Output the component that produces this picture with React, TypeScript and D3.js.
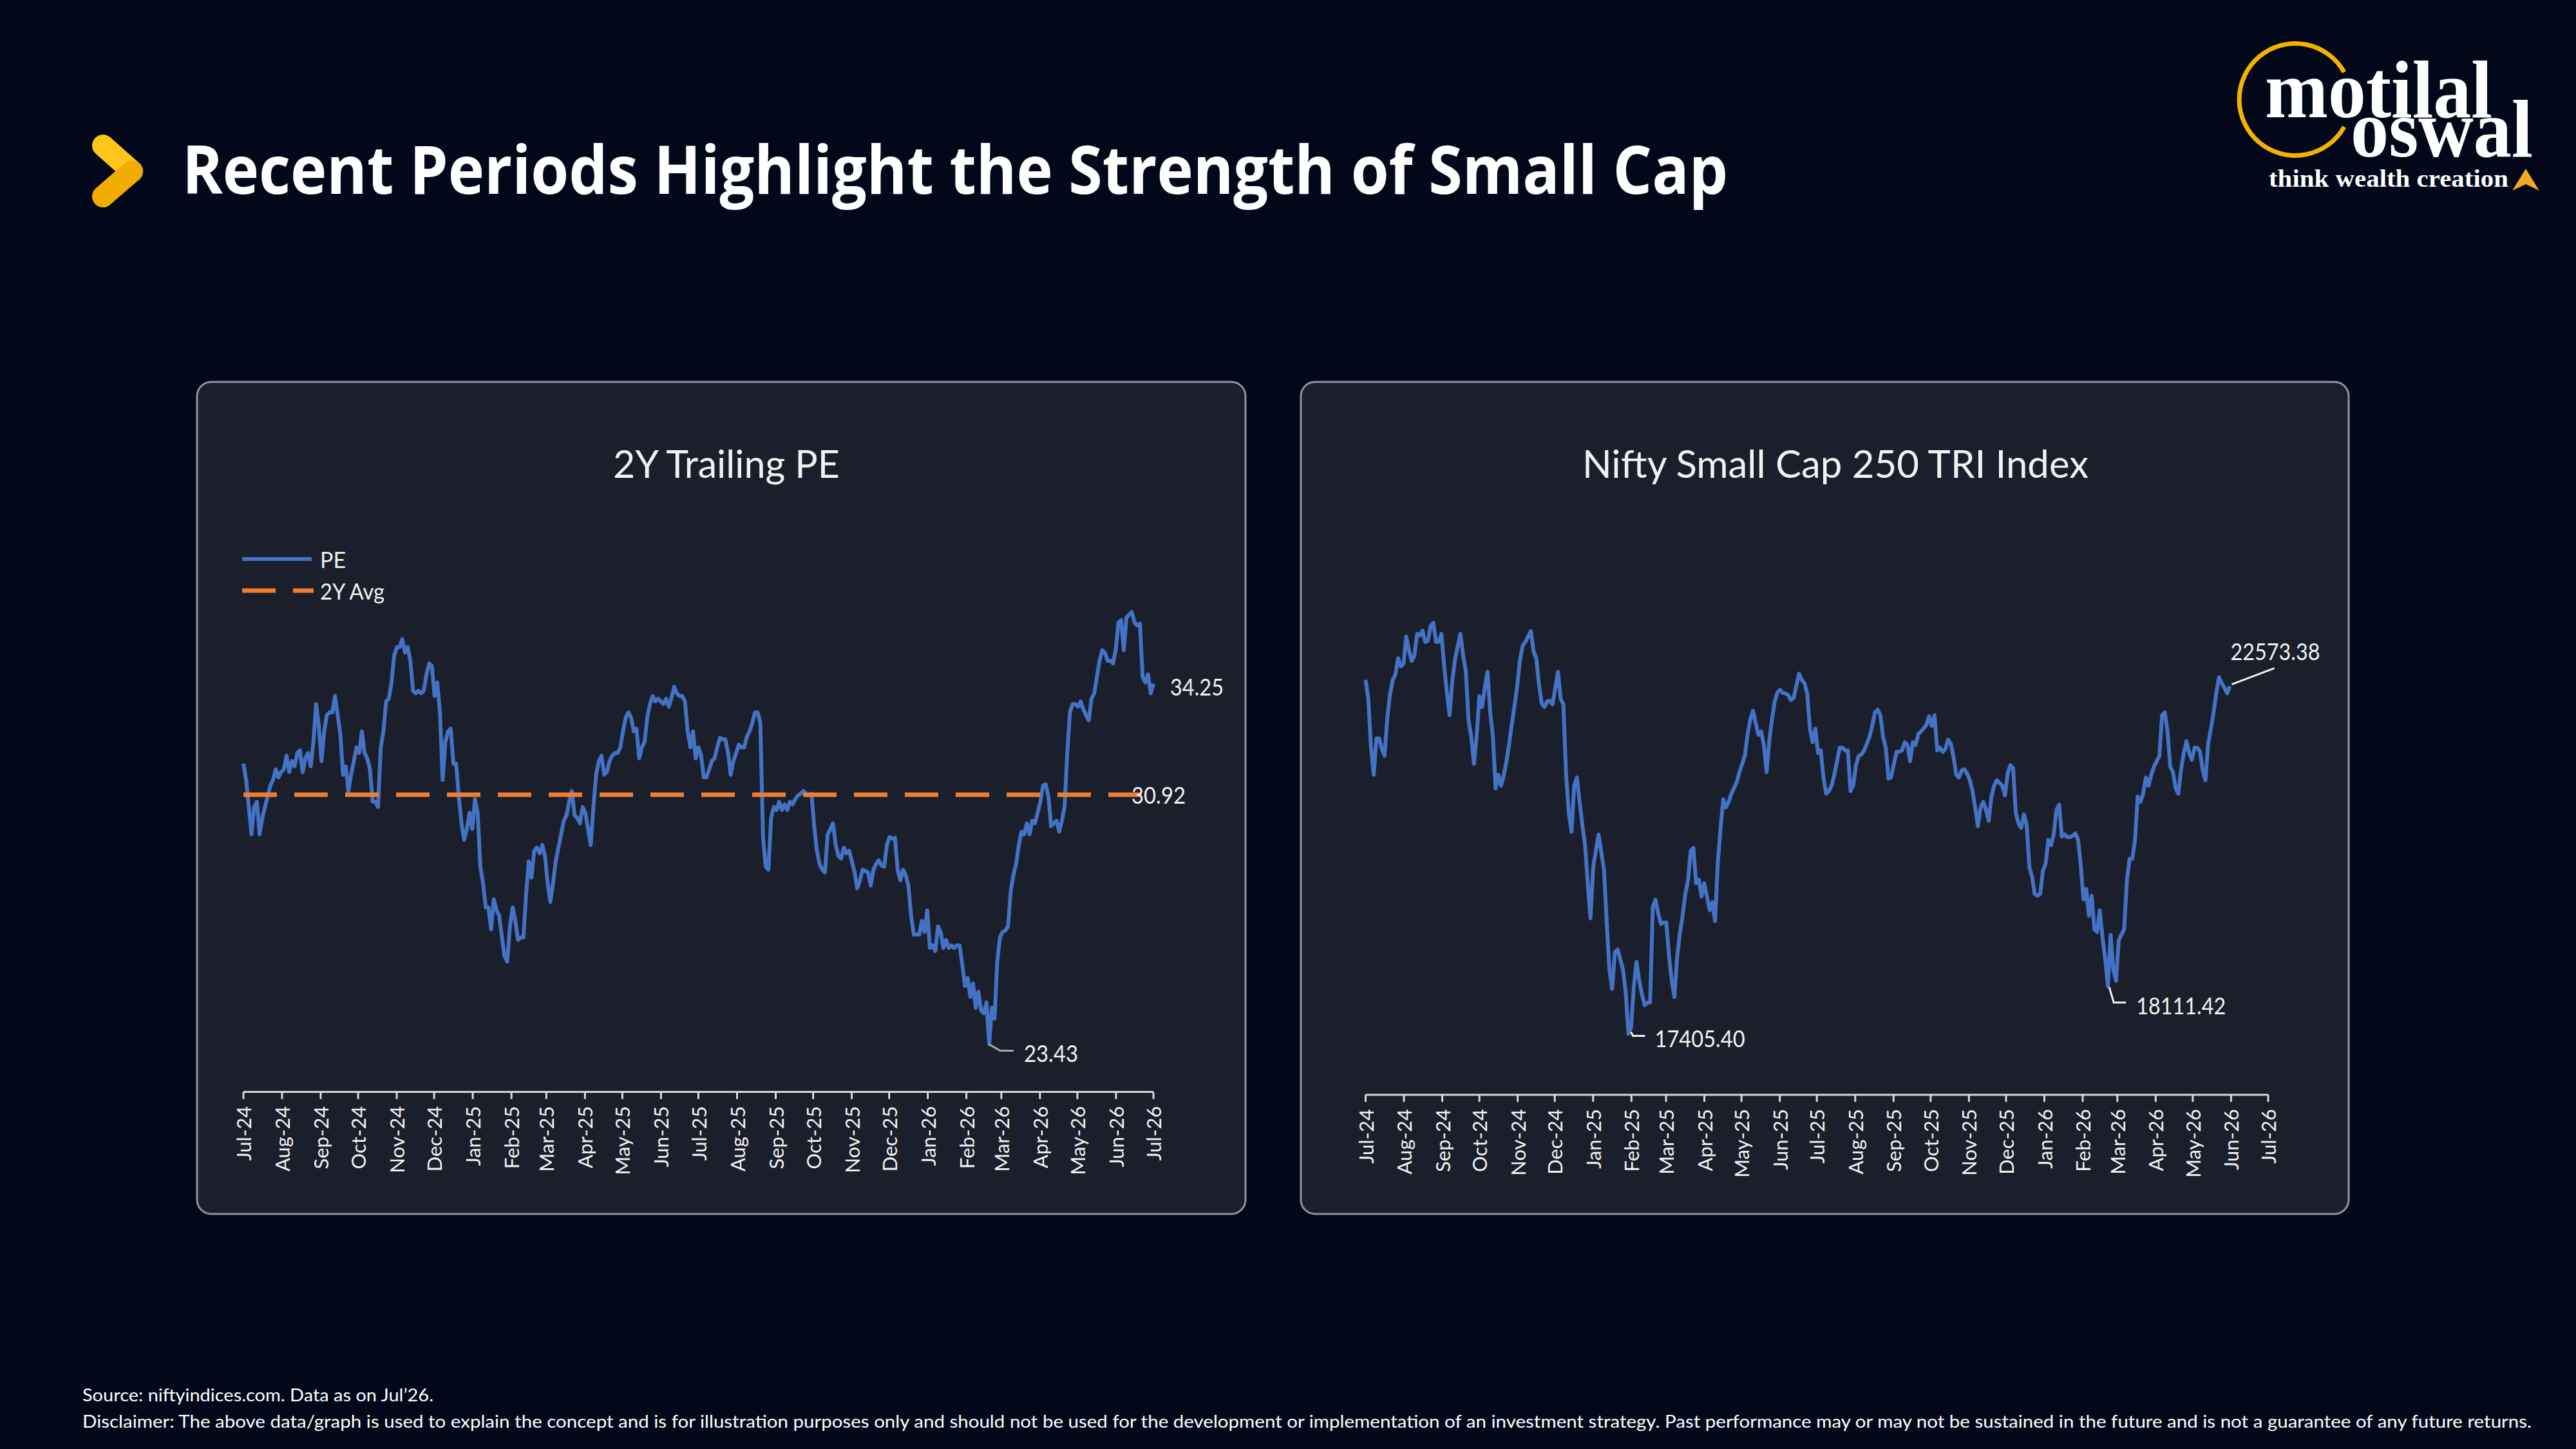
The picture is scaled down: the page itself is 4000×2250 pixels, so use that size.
import React from "react";
import * as d3 from "d3";

const W = 4000;
const H = 2250;

const pageTitle = "Recent Periods Highlight the Strength of Small Cap";
const peTitle = "2Y Trailing PE";
const indexTitle = "Nifty Small Cap 250 TRI Index";
const legendLabels = ["PE", "2Y Avg"];
const logoWords = ["motilal", "oswal", "think wealth creation"];
const sourceNote = "Source: niftyindices.com. Data as on Jul\u201926.";
const disclaimer =
  "Disclaimer: The above data/graph is used to explain the concept and is for illustration purposes only and should not be used for the development or implementation of an investment strategy. Past performance may or may not be sustained in the future and is not a guarantee of any future returns.";

const periodStart = new Date(2024, 6, 1);
const periodEnd = new Date(2026, 6, 1);
const peLastDate = new Date(2026, 6, 1);
const indexLastDate = new Date(2026, 4, 31);
const secondLowFrom = new Date(2025, 11, 1);

const peAverage = 30.92;
const peDomain = [22, 38];
const indexDomain = [16500, 24500];

const peValues = [
  31.85, 31.36, 30.55, 29.73, 30.55, 30.71, 29.73, 30.22, 30.55, 30.87,
  31.2, 31.36, 31.68, 31.44, 31.6, 31.68, 32.09, 31.6, 31.93, 31.77,
  32.17, 32.25, 31.6, 32.01, 32.17, 31.77, 32.5, 33.64, 32.99, 31.93,
  32.82, 33.31, 33.39, 33.39, 33.88, 33.31, 32.74, 31.52, 31.77, 31.03,
  31.52, 31.93, 32.34, 32.17, 32.82, 32.17, 32.01, 31.68, 30.71, 30.71,
  30.55, 32.34, 32.82, 33.72, 33.8, 34.29, 35.1, 35.35, 35.35, 35.59,
  35.18, 35.35, 34.94, 34.04, 33.96, 34.04, 33.96, 34.04, 34.53, 34.86,
  34.78, 33.88, 34.29, 33.39, 31.36, 32.5, 32.82, 32.9, 31.85, 31.85,
  30.87, 30.06, 29.57, 29.89, 30.38, 29.89, 30.79, 30.38, 28.76, 28.27,
  27.54, 27.54, 26.88, 27.78, 27.45, 27.29, 26.64, 26.07, 25.91, 26.97,
  27.54, 27.13, 26.56, 26.64, 26.64, 27.94, 28.92, 28.43, 29.24, 29.33,
  29.16, 29.41, 29.08, 28.27, 27.7, 28.27, 28.92, 29.33, 29.73, 30.14,
  30.3, 30.71, 31.03, 30.3, 30.22, 30.06, 30.55, 30.38, 29.89, 29.41,
  30.55, 31.52, 31.93, 32.09, 31.52, 31.6, 31.93, 32.09, 32.17, 32.17,
  32.34, 32.82, 33.23, 33.39, 33.23, 32.82, 32.9, 32.01, 32.34, 32.5,
  33.23, 33.64, 33.88, 33.72, 33.8, 33.72, 33.64, 33.8, 33.56, 33.83,
  34.16, 33.96, 33.88, 33.88, 33.72, 32.82, 32.34, 32.82, 32.01, 32.34,
  32.09, 31.44, 31.44, 31.68, 31.93, 32.01, 32.34, 32.63, 32.58, 32.58,
  32.17, 31.52, 31.93, 32.17, 32.42, 32.34, 32.34, 32.66, 32.82, 33.07,
  33.39, 33.39, 33.07, 29.65, 28.76, 28.67, 30.22, 30.55, 30.46, 30.71,
  30.46, 30.63, 30.46, 30.71, 30.63, 30.79, 30.9, 30.95, 31.03, 30.95,
  30.9, 30.95, 29.98, 29.24, 28.84, 28.67, 28.59, 29.73, 29.89, 30.06,
  29.41, 29.08, 29.0, 29.33, 29.16, 29.24, 28.92, 28.59, 28.11, 28.35,
  28.67, 28.63, 28.59, 28.19, 28.67, 28.84, 28.95, 28.79, 28.76, 29.41,
  29.65, 29.6, 29.63, 28.67, 28.35, 28.67, 28.51, 28.19, 27.29, 26.72,
  26.72, 26.72, 27.13, 26.8, 27.45, 26.32, 26.4, 26.23, 26.97, 26.8,
  26.32, 26.56, 26.32, 26.4, 26.32, 26.4, 26.4, 25.83, 25.18, 25.42,
  24.85, 25.26, 24.53, 25.01, 24.44, 24.36, 24.69, 23.43, 24.53, 24.2,
  25.91, 26.64, 26.8, 26.84, 26.97, 28.02, 28.51, 28.84, 29.41, 29.81,
  29.73, 30.06, 29.73, 30.14, 30.06, 30.38, 30.71, 31.2, 31.23, 30.87,
  29.98, 30.06, 30.14, 29.81, 30.14, 30.55, 32.17, 33.39, 33.64, 33.64,
  33.56, 33.72, 33.47, 33.31, 33.15, 33.8, 33.96, 34.45, 34.94, 35.26,
  35.18, 34.94, 34.94, 34.86, 35.26, 36.08, 36.16, 35.26, 36.24, 36.32,
  36.4, 36.08, 36.0, 36.05, 34.45, 34.29, 34.53, 33.96, 34.25,
];

const indexValues = [
  22668, 22386, 21661, 21258, 21800, 21800, 21640, 21540, 22100, 22450,
  22660, 22750, 22991, 22870, 22910, 23313, 23111, 22950, 23031, 23353,
  23330, 23400, 23230, 23250, 23470, 23515, 23232, 23232, 23353, 22870,
  22480, 22144, 22650, 22970, 23170, 23353, 23031, 22789, 22064, 21822,
  21419, 21840, 22426, 22265, 22547, 22789, 22180, 21820, 21056, 21258,
  21096, 21250, 21460, 21720, 22020, 22290, 22590, 22970, 23180, 23232,
  23313, 23394, 23090, 22990, 22600, 22320, 22265, 22350, 22360, 22305,
  22547, 22789, 22386, 22305, 21258, 20693, 20411, 21096, 21217, 20855,
  20510, 20210, 19646, 19122, 19887, 20129, 20371, 20100, 19847, 19060,
  18356, 18074, 18620, 18660, 18520, 18360, 18034, 17405.4, 17500, 18114,
  18477, 18195, 17993, 17832, 17872, 17872, 19283, 19400, 19200, 19040,
  19060, 19060, 18558, 18195, 17953, 18560, 18900, 19162, 19484, 19686,
  20129, 20170, 19646, 19700, 19444, 19646, 19444, 19243, 19364, 19081,
  19950, 20450, 20895, 20774, 20855, 20976, 21060, 21150, 21298, 21419,
  21540, 21862, 22080, 22209, 22023, 21850, 21902, 21701, 21298, 21760,
  22080, 22346, 22480, 22520, 22475, 22467, 22440, 22370, 22400, 22580,
  22760, 22668, 22620, 22467, 21943, 21741, 21943, 21580, 21620, 21220,
  20976, 21016, 21096, 21258, 21459, 21661, 21661, 21620, 21620, 21016,
  21100, 21400, 21540, 21560, 21620, 21717, 21822, 21983, 22185, 22225,
  22144, 21822, 21661, 21200, 21220, 21420, 21600, 21600, 21620, 21741,
  21701, 21459, 21741, 21701, 21862, 21900, 21950, 22000, 22128, 21983,
  22144, 21620, 21661, 21600, 21640, 21780, 21720, 21520, 21258, 21217,
  21320, 21340, 21280, 21180, 21016, 20774, 20492, 20774, 20855, 20734,
  20573, 20935, 21096, 21177, 21137, 21096, 20951, 21280, 21400, 21354,
  20693, 20532, 20468, 20670, 20510, 19887, 19740, 19484, 19460, 19484,
  19830, 19930, 20290, 20210, 20371, 20734, 20814, 20340, 20371, 20331,
  20331, 20350, 20387, 20290, 19900, 19404, 19560, 19162, 19460, 18961,
  18920, 19243, 18840, 18517, 18111.42, 18880, 18356, 18195, 18799, 18880,
  18961, 19686, 20008, 20008, 20290, 20935, 20855, 20976, 21217, 21096,
  21258, 21379, 21459, 21540, 22144, 22185, 21902, 21379, 21298, 21056,
  20976, 21338, 21580, 21757, 21580, 21483, 21661, 21661, 21600, 21320,
  21177, 21720, 21940, 22180, 22470, 22708, 22620, 22550, 22467, 22573.38,
];

const BLUE = "#4472C4";
const ORANGE = "#ED7D31";
const TXT = "#F2F2F2";
const FONT = "Lato, 'Open Sans', sans-serif";

function spreadDates(n: number, start: Date, end: Date): Date[] {
  const t0 = start.getTime();
  const t1 = end.getTime();
  return d3.range(n).map((i) => new Date(t0 + ((t1 - t0) * i) / (n - 1)));
}

const peDates = spreadDates(peValues.length, periodStart, peLastDate);
const indexDates = spreadDates(indexValues.length, periodStart, indexLastDate);
const monthTicks = d3.timeMonth.range(periodStart, d3.timeDay.offset(periodEnd, 1));
const fmtMonth = d3.timeFormat("%b-%y");

function Axis({ x, axisY }: { x: d3.ScaleTime<number, number>; axisY: number }) {
  return (
    <g>
      <line x1={x(periodStart)} x2={x(periodEnd)} y1={axisY} y2={axisY} stroke="#D9D9D9" strokeWidth={3} />
      {monthTicks.map((m, i) => (
        <g key={i}>
          <line x1={x(m)} x2={x(m)} y1={axisY} y2={axisY + 11} stroke="#D9D9D9" strokeWidth={3} />
          <text
            transform={`translate(${x(m)},${axisY + 22}) rotate(-90)`}
            textAnchor="end"
            dominantBaseline="central"
            fontFamily={FONT}
            fontSize={31}
            fill={TXT}
          >
            {fmtMonth(m)}
          </text>
        </g>
      ))}
    </g>
  );
}

export default function App() {
  const xL = d3.scaleTime().domain([periodStart, periodEnd]).range([378, 1791]);
  const yL = d3.scaleLinear().domain(peDomain).range([1695.6, 867.6]);
  const xR = d3.scaleTime().domain([periodStart, periodEnd]).range([2120.5, 3522]);
  const yR = d3.scaleLinear().domain(indexDomain).range([1700, 864.4]);

  const peLine = d3
    .line<number>()
    .x((_, i) => xL(peDates[i]))
    .y((d) => yL(d));
  const idxLine = d3
    .line<number>()
    .x((_, i) => xR(indexDates[i]))
    .y((d) => yR(d));

  const peMinI = d3.minIndex(peValues);
  const peLastI = peValues.length - 1;
  const peMin = { x: xL(peDates[peMinI]), y: yL(peValues[peMinI]), v: peValues[peMinI] };
  const peLast = { x: xL(peDates[peLastI]), y: yL(peValues[peLastI]), v: peValues[peLastI] };

  const idxMinI = d3.minIndex(indexValues);
  const laterIdx = d3.range(indexValues.length).filter((i) => indexDates[i] >= secondLowFrom);
  const idxLow2I = laterIdx[d3.minIndex(laterIdx.map((i) => indexValues[i]))];
  const idxLastI = indexValues.length - 1;
  const im = { x: xR(indexDates[idxMinI]), y: yR(indexValues[idxMinI]), v: indexValues[idxMinI] };
  const i2 = { x: xR(indexDates[idxLow2I]), y: yR(indexValues[idxLow2I]), v: indexValues[idxLow2I] };
  const il = { x: xR(indexDates[idxLastI]), y: yR(indexValues[idxLastI]), v: indexValues[idxLastI] };

  const avgY = yL(peAverage);

  return (
    <svg
      width={W}
      height={H}
      viewBox={`0 0 ${W} ${H}`}
      style={{ position: "absolute", left: 0, top: 0, display: "block" }}
    >
      <rect x={0} y={0} width={W} height={H} fill="#02081A" />

      {/* Header chevron */}
      <line x1={160} y1={226} x2={205} y2={266} stroke="#FFC61A" strokeWidth={34} strokeLinecap="round" />
      <line x1={205} y1={266} x2={160} y2={305} stroke="#F2AE00" strokeWidth={34} strokeLinecap="round" />
      <text
        x={283}
        y={301}
        fontFamily="'Open Sans', sans-serif"
        fontWeight={700}
        fontSize={104}
        fill="#FFFFFF"
        textLength={2400}
        lengthAdjust="spacingAndGlyphs"
      >
        {pageTitle}
      </text>

      {/* Logo */}
      <path d="M3640,112 A87,87 0 1 0 3640,197" fill="none" stroke="#F5B301" strokeWidth={7} />
      <text fontFamily="'Liberation Serif', serif" fontWeight={700} fill="#FFFFFF" lengthAdjust="spacingAndGlyphs">
        <tspan x={3517} y={182} fontSize={128} textLength={353} lengthAdjust="spacingAndGlyphs">
          {logoWords[0]}
        </tspan>
        <tspan x={3650} y={243} fontSize={128} textLength={283} lengthAdjust="spacingAndGlyphs">
          {logoWords[1]}
        </tspan>
        <tspan x={3523} y={290} fontSize={38} textLength={372} lengthAdjust="spacingAndGlyphs">
          {logoWords[2]}
        </tspan>
      </text>
      <path d="M3922,262 L3943,296 L3922,286 L3901,296 Z" fill="#F5A623" />

      {/* Panels */}
      <rect x={306} y={593} width={1628} height={1292} rx={22} fill="#1B1E2B" stroke="#8F939C" strokeWidth={3} />
      <rect x={2020} y={593} width={1627} height={1292} rx={22} fill="#1B1E2B" stroke="#8F939C" strokeWidth={3} />

      {/* Left chart */}
      <text x={1128} y={742} textAnchor="middle" fontFamily={FONT} fontSize={60} fill={TXT} textLength={352} lengthAdjust="spacingAndGlyphs">
        {peTitle}
      </text>
      <line x1={376} x2={484} y1={868} y2={868} stroke={BLUE} strokeWidth={6} />
      <text x={497} y={868} dominantBaseline="central" fontFamily={FONT} fontSize={34} fill={TXT}>
        {legendLabels[0]}
      </text>
      <line x1={376} x2={487} y1={917} y2={917} stroke={ORANGE} strokeWidth={7} strokeDasharray="52 27" />
      <text x={497} y={917} dominantBaseline="central" fontFamily={FONT} fontSize={34} fill={TXT} textLength={100} lengthAdjust="spacingAndGlyphs">
        {legendLabels[1]}
      </text>

      <Axis x={xL} axisY={yL(peDomain[0])} />
      <path d={peLine(peValues) || ""} fill="none" stroke={BLUE} strokeWidth={6} strokeLinejoin="round" />
      <line
        x1={xL(periodStart)}
        x2={xL(peLastDate)}
        y1={avgY}
        y2={avgY}
        stroke={ORANGE}
        strokeWidth={7}
        strokeDasharray="52 27"
      />
      <text x={xL(peLastDate) - 34} y={avgY} dominantBaseline="central" fontFamily={FONT} fontSize={36} fill={TXT} textLength={84} lengthAdjust="spacingAndGlyphs">
        {peAverage.toFixed(2)}
      </text>
      <text x={peLast.x + 26} y={peLast.y + 4} dominantBaseline="central" fontFamily={FONT} fontSize={36} fill={TXT} textLength={83} lengthAdjust="spacingAndGlyphs">
        {peLast.v.toFixed(2)}
      </text>
      <path
        d={`M${peMin.x},${peMin.y} L${peMin.x + 17},${peMin.y + 10} L${peMin.x + 38},${peMin.y + 10}`}
        fill="none"
        stroke="#A6A6A6"
        strokeWidth={3}
      />
      <text x={peMin.x + 54} y={peMin.y + 13} dominantBaseline="central" fontFamily={FONT} fontSize={36} fill={TXT} textLength={84} lengthAdjust="spacingAndGlyphs">
        {peMin.v.toFixed(2)}
      </text>

      {/* Right chart */}
      <text x={2850} y={742} textAnchor="middle" fontFamily={FONT} fontSize={60} fill={TXT} textLength={786} lengthAdjust="spacingAndGlyphs">
        {indexTitle}
      </text>
      <Axis x={xR} axisY={yR(indexDomain[0])} />
      <path d={idxLine(indexValues) || ""} fill="none" stroke={BLUE} strokeWidth={6} strokeLinejoin="round" />

      <path
        d={`M${im.x + 4},${im.y - 3} L${im.x + 7},${im.y + 3} L${im.x + 26},${im.y + 3}`}
        fill="none"
        stroke={TXT}
        strokeWidth={3}
      />
      <text x={im.x + 41} y={im.y + 7} dominantBaseline="central" fontFamily={FONT} fontSize={36} fill={TXT} textLength={140} lengthAdjust="spacingAndGlyphs">
        {im.v.toFixed(2)}
      </text>
      <path
        d={`M${i2.x + 2},${i2.y + 1} L${i2.x + 9},${i2.y + 25} L${i2.x + 28},${i2.y + 25}`}
        fill="none"
        stroke={TXT}
        strokeWidth={3}
      />
      <text x={i2.x + 44} y={i2.y + 29} dominantBaseline="central" fontFamily={FONT} fontSize={36} fill={TXT} textLength={139} lengthAdjust="spacingAndGlyphs">
        {i2.v.toFixed(2)}
      </text>
      <path d={`M${il.x + 3},${il.y - 3} L${il.x + 69},${il.y - 28}`} fill="none" stroke={TXT} strokeWidth={3} />
      <text x={il.x + 1} y={il.y - 55} dominantBaseline="central" fontFamily={FONT} fontSize={36} fill={TXT} textLength={139} lengthAdjust="spacingAndGlyphs">
        {il.v.toFixed(2)}
      </text>

      {/* Footer */}
      <text x={128} y={2176} fontFamily={FONT} fontSize={26} fill="#FFFFFF" textLength={545} lengthAdjust="spacingAndGlyphs">
        {sourceNote}
      </text>
      <text x={128} y={2217} fontFamily={FONT} fontSize={26} fill="#FFFFFF" textLength={3803} lengthAdjust="spacingAndGlyphs">
        {disclaimer}
      </text>
    </svg>
  );
}
